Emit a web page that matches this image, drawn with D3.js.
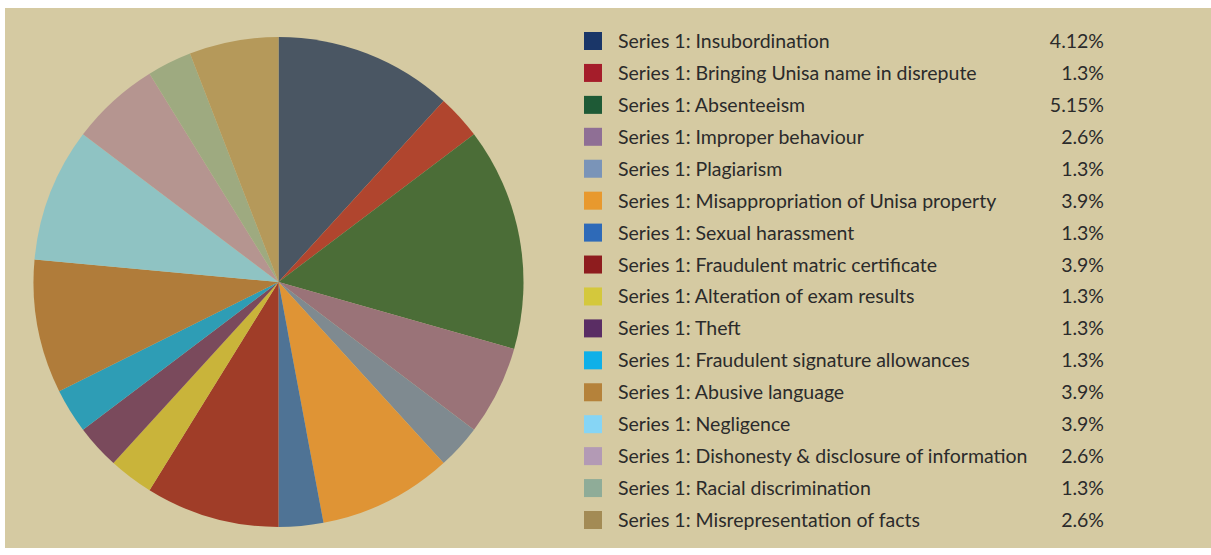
<!DOCTYPE html>
<html>
<head>
<meta charset="utf-8">
<script src="https://cdn.jsdelivr.net/npm/d3@7"></script>
<style>
	body { margin: 0; background: #fff; }
	text { font-family: Lato, "Open Sans", sans-serif; fill: #2b2b2b; }
</style>
</head>
<body>
<svg></svg>
<script>
// categories (legend order = slice order, clockwise from 12 o'clock)
const categories = [
	'Insubordination', 'Bringing Unisa name in disrepute', 'Absenteeism',
	'Improper behaviour', 'Plagiarism', 'Misappropriation of Unisa property',
	'Sexual harassment', 'Fraudulent matric certificate', 'Alteration of exam results',
	'Theft', 'Fraudulent signature allowances', 'Abusive language', 'Negligence',
	'Dishonesty & disclosure of information', 'Racial discrimination',
	'Misrepresentation of facts'
]
// slice sizes
const caseCounts = [4, 1, 5, 2, 1, 3, 1, 3, 1, 1, 1, 3, 3, 2, 1, 2]
// percentages as printed in the legend
const pctLabels = ['4.12%', '1.3%', '5.15%', '2.6%', '1.3%', '3.9%', '1.3%', '3.9%',
	'1.3%', '1.3%', '1.3%', '3.9%', '3.9%', '2.6%', '1.3%', '2.6%']

// muted / textured tones used in the pie
const sliceColors = ['#4a5663', '#b0452e', '#4b6d37', '#9a7378', '#7f8a90', '#df9435',
	'#4f7395', '#a03d28', '#c9b43a', '#7a4a5c', '#2e9db5', '#b07c3a', '#8fc3c3',
	'#b59590', '#9eaa80', '#b5995a']
// flat tones used in the legend swatches
const swatchColors = ['#1a3668', '#a51d2a', '#1e5a36', '#8f6f95', '#7a94b8', '#e8992e',
	'#2e6ab8', '#8e1c1e', '#d4c83c', '#5a2d64', '#0fb0e8', '#b5823a', '#86d5f5',
	'#b39ab5', '#8fac98', '#a38b55']

const W = 1211, H = 555

const svg = d3.select('svg')
	.attr('width', W)
	.attr('height', H)

// panel
svg.append('rect')
	.attr('x', 5)
	.attr('y', 8)
	.attr('width', W - 5)
	.attr('height', 540)
	.attr('fill', '#d5caa2')

// pie
const cx = 278.5, cy = 282, R = 245

const pie = d3.pie().sort(null).value(d => d)
const arc = d3.arc().innerRadius(0).outerRadius(R)

const g = svg.append('g')
	.attr('transform', `translate(${cx},${cy})`)

g.selectAll('path')
	.data(pie(caseCounts))
	.join('path')
	.attr('d', arc)
	.attr('fill', (d, i) => sliceColors[i])

// legend
const rowY = d3.scaleLinear().domain([0, categories.length - 1]).range([41, 520])

const leg = svg.append('g')
const rows = leg.selectAll('g')
	.data(categories)
	.join('g')
	.attr('transform', (d, i) => `translate(0,${rowY(i)})`)

rows.append('rect')
	.attr('x', 584)
	.attr('y', -9)
	.attr('width', 18)
	.attr('height', 18)
	.attr('fill', (d, i) => swatchColors[i])

rows.append('text')
	.attr('x', 618)
	.attr('y', 7)
	.attr('font-size', 19.5)
	.text(d => 'Series 1: ' + d)

rows.append('text')
	.attr('x', 1104)
	.attr('y', 7)
	.attr('font-size', 19.5)
	.attr('text-anchor', 'end')
	.text((d, i) => pctLabels[i])
</script>
</body>
</html>
